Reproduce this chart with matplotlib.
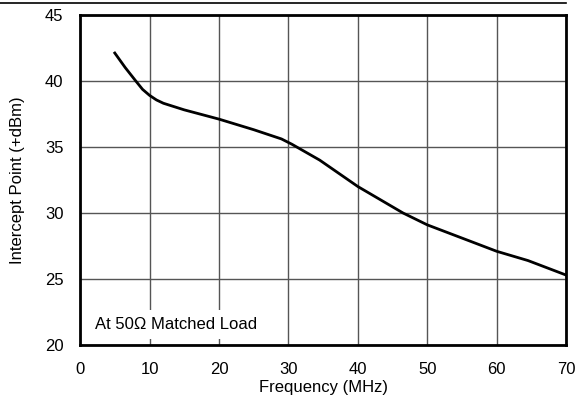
import numpy as np
import matplotlib.pyplot as plt
from matplotlib.lines import Line2D

plt.rcParams['font.family'] = ['Liberation Sans', 'DejaVu Sans']

# Данные кривой
freq_mhz = [5, 6.5, 8, 9, 10, 11, 12, 15, 20, 25, 29, 30.5, 32, 34.5, 40, 46.5, 50, 55, 60, 64.5, 70]
intercept_dbm = [42.1, 41.0, 40.0, 39.35, 38.9, 38.55, 38.3, 37.8, 37.1, 36.3, 35.6, 35.2, 34.75, 34.0,
                 32.0, 30.0, 29.1, 28.1, 27.1, 26.4, 25.3]

x_ticks = [0, 10, 20, 30, 40, 50, 60, 70]
y_ticks = [20, 25, 30, 35, 40, 45]

fig = plt.figure(figsize=(5.76, 4.08), dpi=100)
ax = fig.add_axes([0.139, 0.154, 0.844, 0.810])

ax.plot(freq_mhz, intercept_dbm, color='black', linewidth=2, zorder=3)

ax.set_xlim(0, 70)
ax.set_ylim(20, 45)
ax.set_xticks(x_ticks)
ax.set_yticks(y_ticks)
ax.tick_params(length=0, labelsize=12, pad=12)
ax.grid(True, color='#555555', linewidth=1)
for s in ax.spines.values():
    s.set_linewidth(2)

ax.set_xlabel('Frequency (MHz)', fontsize=12, labelpad=2)
ax.set_ylabel('Intercept Point (+dBm)', fontsize=12, labelpad=14)

# Подпись в левом нижнем углу (белый фон перекрывает сетку)
ax.text(2.2, 21.6, 'At 50Ω Matched Load', fontsize=12, va='center', ha='left',
        zorder=4, bbox=dict(facecolor='white', edgecolor='none', pad=5))

# Линия сверху
fig.add_artist(Line2D([0, 0.982], [0.993, 0.993], color='black', linewidth=1.2))

fig.savefig('out.png', dpi=100)
